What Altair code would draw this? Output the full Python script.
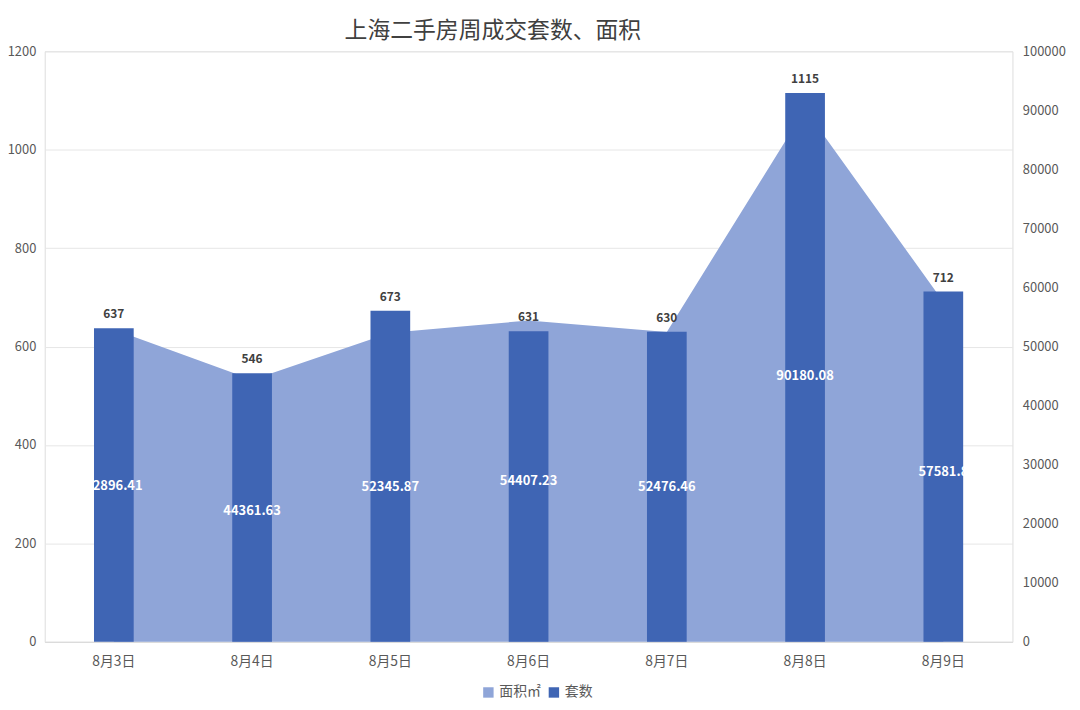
import altair as alt
import pandas as pd

dates = ["8月3日", "8月4日", "8月5日", "8月6日", "8月7日", "8月8日", "8月9日"]
counts = [637, 546, 673, 631, 630, 1115, 712]
areas = [52896.41, 44361.63, 52345.87, 54407.23, 52476.46, 90180.08, 57581.8]
area_labels = ["52896.41", "44361.63", "52345.87", "54407.23", "52476.46", "90180.08", "57581.8"]
series_names = ["面积㎡", "套数"]
left_ticks = [0, 200, 400, 600, 800, 1000, 1200]
right_ticks = [0, 10000, 20000, 30000, 40000, 50000, 60000, 70000, 80000, 90000, 100000]

df = pd.DataFrame({"date": dates, "count": counts, "area": areas, "area_label": area_labels})

AREA_C = "#8FA5D8"
BAR_C = "#3F65B4"
FONT = "Noto Sans CJK SC"
GREY = "#595959"

x = alt.X("date:N", sort=dates, title=None,
          scale=alt.Scale(paddingInner=0, paddingOuter=0),
          axis=alt.Axis(labelAngle=0, labelFontSize=14, labelColor=GREY, labelFont=FONT,
                        ticks=False, domain=True, domainColor="#D9D9D9", labelPadding=13, grid=False))

left_scale = alt.Scale(domain=[0, 1200], nice=False, zero=True)
right_scale = alt.Scale(domain=[0, 100000], nice=False, zero=True)

color = alt.Color("series:N",
                  scale=alt.Scale(domain=series_names, range=[AREA_C, BAR_C]),
                  legend=alt.Legend(title=None, orient="none", direction="horizontal",
                                    legendX=440, legendY=639,
                                    symbolType="square", symbolSize=110, labelFontSize=14,
                                    labelColor=GREY, labelFont=FONT,
                                    columnPadding=6, labelOffset=4, symbolStrokeWidth=0))

area = alt.Chart(df).mark_area(opacity=1).transform_calculate(series="'面积㎡'").encode(
    x=x,
    y=alt.Y("area:Q", scale=right_scale, title=None,
            axis=alt.Axis(orient="right", values=right_ticks, format="d", labelFontSize=13,
                          labelColor=GREY, labelFont=FONT, ticks=False, domain=False,
                          grid=False, labelPadding=10)),
    color=color,
)

bars = alt.Chart(df).mark_bar(size=40).transform_calculate(series="'套数'").encode(
    x=x,
    y=alt.Y("count:Q", scale=left_scale, title=None,
            axis=alt.Axis(orient="left", values=left_ticks, format="d", labelFontSize=13,
                          labelColor=GREY, labelFont=FONT, ticks=False, domain=False, grid=True,
                          gridColor="#E6E6E6", labelPadding=9)),
    color=color,
)

bar_text = alt.Chart(df).mark_text(dy=-14, fontWeight="bold", fontSize=12, color="#404040",
                                   font=FONT).encode(
    x=x,
    y=alt.Y("count:Q", scale=left_scale, axis=None),
    text="count:Q",
)

area_text = alt.Chart(df).mark_text(fontWeight="bold", fontSize=13, color="white",
                                    font=FONT).transform_calculate(
    area_mid="datum.area / 2").encode(
    x=x,
    y=alt.Y("area_mid:Q", scale=right_scale, axis=None),
    text="area_label:N",
)

chart = alt.layer(area, bars, bar_text, area_text).resolve_scale(y="independent").properties(
    width=975, height=595,
    autosize=alt.AutoSizeParams(type="none"),
    padding={"left": 37, "top": 41, "right": 60, "bottom": 58},
    title=alt.TitleParams("上海二手房周成交套数、面积", fontSize=23, font=FONT, color="#404040",
                          fontWeight="normal", anchor="middle", dx=-36, offset=2),
).configure_view(stroke=None).configure(background="white")

chart.save("out.html", embed_options={"renderer": "svg", "actions": False})
